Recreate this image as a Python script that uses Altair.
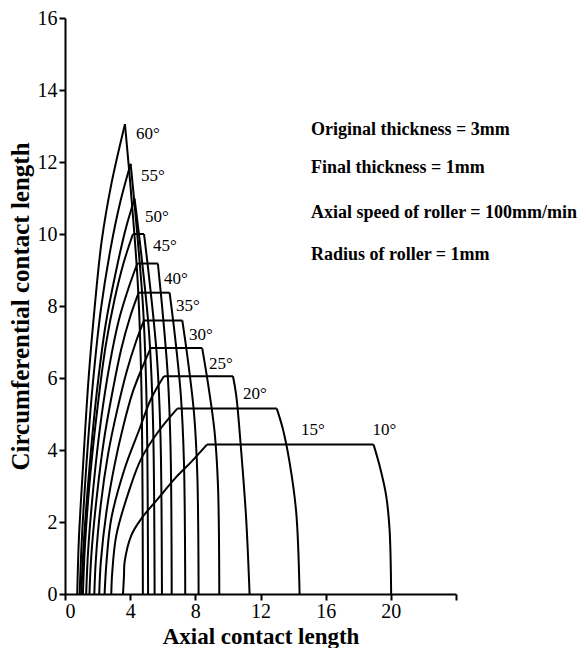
import altair as alt
import pandas as pd

# ---- data ----
angles = [60, 55, 50, 45, 40, 35, 30, 25, 20, 15, 10]

# rising (left) boundary of each contact region
left_x = [
    [0.75, 0.85, 1.1, 1.45, 1.85, 2.25, 2.85, 3.68],
    [0.9, 1.02, 1.3, 1.7, 2.2, 2.8, 3.4, 4.03],
    [1.0, 1.15, 1.5, 1.95, 2.5, 3.1, 3.7, 4.27],
    [1.1, 1.22, 1.55, 2.0, 2.5, 3.05, 3.6, 4.17],
    [1.3, 1.42, 1.75, 2.2, 2.75, 3.3, 3.9, 4.44],
    [1.5, 1.62, 1.95, 2.4, 2.95, 3.45, 4.0, 4.52],
    [1.8, 1.9, 2.2, 2.65, 3.2, 3.8, 4.35, 4.85],
    [2.1, 2.2, 2.55, 3.05, 3.6, 4.15, 4.75, 5.26],
    [2.43, 2.55, 2.84, 3.66, 4.58, 5.29, 6.07],
    [2.84, 2.9, 3.15, 3.97, 4.68, 5.71, 6.89],
    [3.56, 3.62, 3.66, 4.07, 4.68, 5.71, 6.73, 7.75, 8.71],
]
left_y = [
    [0, 1.5, 3.5, 6.0, 8.1, 9.8, 11.4, 13.05],
    [0, 1.4, 3.5, 5.8, 7.9, 9.6, 10.9, 11.95],
    [0, 1.4, 3.5, 5.6, 7.5, 8.9, 10.1, 10.98],
    [0, 1.3, 3.3, 5.2, 6.9, 8.2, 9.2, 10.0],
    [0, 1.2, 3.0, 4.8, 6.4, 7.6, 8.5, 9.18],
    [0, 1.1, 2.7, 4.3, 5.7, 6.8, 7.7, 8.37],
    [0, 1.0, 2.5, 3.9, 5.1, 6.2, 7.0, 7.6],
    [0, 0.9, 2.3, 3.6, 4.7, 5.6, 6.3, 6.83],
    [0, 0.9, 2.09, 3.48, 4.59, 5.43, 6.05],
    [0, 0.6, 1.63, 2.92, 3.76, 4.5, 5.15],
    [0, 0.5, 0.89, 1.63, 2.09, 2.65, 3.2, 3.67, 4.15],
]

# flat top of each region
top_y = [13.05, 11.95, 10.98, 10.0, 9.18, 8.37, 7.6, 6.83, 6.05, 5.15, 4.15]
top_x0 = [3.68, 4.03, 4.27, 4.17, 4.44, 4.52, 4.85, 5.26, 6.07, 6.89, 8.71]
top_x1 = [3.68, 4.03, 4.27, 4.85, 5.7, 6.42, 7.2, 8.42, 10.31, 13.0, 18.94]

# falling (right) boundary of each region
right_x = [
    [3.68, 4.04, 4.47, 4.69, 4.78],
    [4.03, 4.38, 4.80, 5.01, 5.1],
    [4.27, 4.68, 5.16, 5.40, 5.5],
    [4.85, 5.21, 5.64, 5.86, 5.95],
    [5.7, 5.98, 6.31, 6.48, 6.55],
    [6.42, 6.74, 7.11, 7.30, 7.38],
    [7.2, 7.53, 7.92, 8.12, 8.2],
    [8.42, 8.77, 9.18, 9.39, 9.47],
    [10.31, 10.51, 10.82, 11.12, 11.33],
    [13.0, 13.37, 13.78, 14.19, 14.4],
    [18.94, 19.3, 19.71, 19.92, 20.02],
]
right_y = [
    [13.05, 11.22, 8.61, 5.74, 0],
    [11.95, 10.28, 7.89, 5.26, 0],
    [10.98, 9.44, 7.25, 4.83, 0],
    [10.0, 8.6, 6.6, 4.4, 0],
    [9.18, 7.89, 6.06, 4.04, 0],
    [8.37, 7.20, 5.52, 3.68, 0],
    [7.6, 6.54, 5.02, 3.34, 0],
    [6.83, 5.87, 4.51, 3.01, 0],
    [6.05, 5.52, 3.94, 2.09, 0],
    [5.15, 4.59, 3.67, 2.28, 0],
    [4.15, 3.58, 2.74, 1.81, 0],
]

# angle labels
label_x = [5.09, 5.4, 5.64, 6.13, 6.81, 7.55, 8.34, 9.57, 11.66, 15.21, 19.61]
label_y = [12.78, 11.61, 10.47, 9.67, 8.75, 8.0, 7.19, 6.39, 5.56, 4.56, 4.56]

# process parameters
notes = [
    "Original thickness = 3mm",
    "Final thickness = 1mm",
    "Axial speed of roller = 100mm/min",
    "Radius of roller = 1mm",
]
note_x = [15.1, 15.1, 15.1, 15.1]
note_y = [12.9, 11.83, 10.58, 9.42]

x_ticks = [0, 4, 8, 12, 16, 20, 24]
y_ticks = [0, 2, 4, 6, 8, 10, 12, 14, 16]

# ---- build tables ----
rows = []
for i, a in enumerate(angles):
    for j, (x, y) in enumerate(zip(left_x[i], left_y[i])):
        rows.append({"seg": f"{a}-L", "ord": j, "x": x, "y": y})
    rows.append({"seg": f"{a}-T", "ord": 0, "x": top_x0[i], "y": top_y[i]})
    rows.append({"seg": f"{a}-T", "ord": 1, "x": top_x1[i], "y": top_y[i]})
    for j, (x, y) in enumerate(zip(right_x[i], right_y[i])):
        rows.append({"seg": f"{a}-R", "ord": j, "x": x, "y": y})
lines_df = pd.DataFrame(rows)

labels_df = pd.DataFrame({
    "x": label_x, "y": label_y, "text": [f"{a}°" for a in angles]
})
notes_df = pd.DataFrame({"x": note_x, "y": note_y, "text": notes})

FONT = "Liberation Serif"

xscale = alt.Scale(domain=[0, 24], nice=False, zero=False)
yscale = alt.Scale(domain=[0, 16], nice=False, zero=False)

xenc = alt.X(
    "x:Q", scale=xscale,
    axis=alt.Axis(
        values=x_ticks, title="Axial contact length",
        labelExpr="datum.value == 24 ? '' : datum.label",
        grid=False, domainColor="black", domainWidth=2, tickColor="black",
        tickWidth=2, tickSize=6, labelFont=FONT, labelFontSize=20,
        labelColor="black", labelPadding=1, titleFont=FONT, titleFontSize=23,
        titleFontWeight="bold", titleColor="black", titlePadding=4,
    ),
)
yenc = alt.Y(
    "y:Q", scale=yscale,
    axis=alt.Axis(
        values=y_ticks, title="Circumferential contact length",
        grid=False, domainColor="black", domainWidth=2, tickColor="black",
        tickWidth=2, tickSize=6, labelFont=FONT, labelFontSize=20,
        labelColor="black", labelPadding=2, titleFont=FONT, titleFontSize=25,
        titleFontWeight="bold", titleColor="black", titlePadding=4,
    ),
)

curves = alt.Chart(lines_df).mark_line(
    color="black", strokeWidth=2, interpolate="catmull-rom"
).encode(
    x=xenc, y=yenc, detail="seg:N", order="ord:Q"
)

labels = alt.Chart(labels_df).mark_text(
    font=FONT, fontSize=17, color="black", align="center", baseline="middle"
).encode(x="x:Q", y="y:Q", text="text:N")

notes_layer = alt.Chart(notes_df).mark_text(
    font=FONT, fontSize=18, fontWeight="bold", color="black",
    align="left", baseline="middle"
).encode(x="x:Q", y="y:Q", text="text:N")

chart = alt.layer(curves, labels, notes_layer).properties(
    width=391, height=576, padding={"left": 0, "top": 0, "right": 0, "bottom": 0}
).configure(background="white").configure_view(stroke=None)

chart.save("out.html", embed_options={"renderer": "svg", "actions": False})
